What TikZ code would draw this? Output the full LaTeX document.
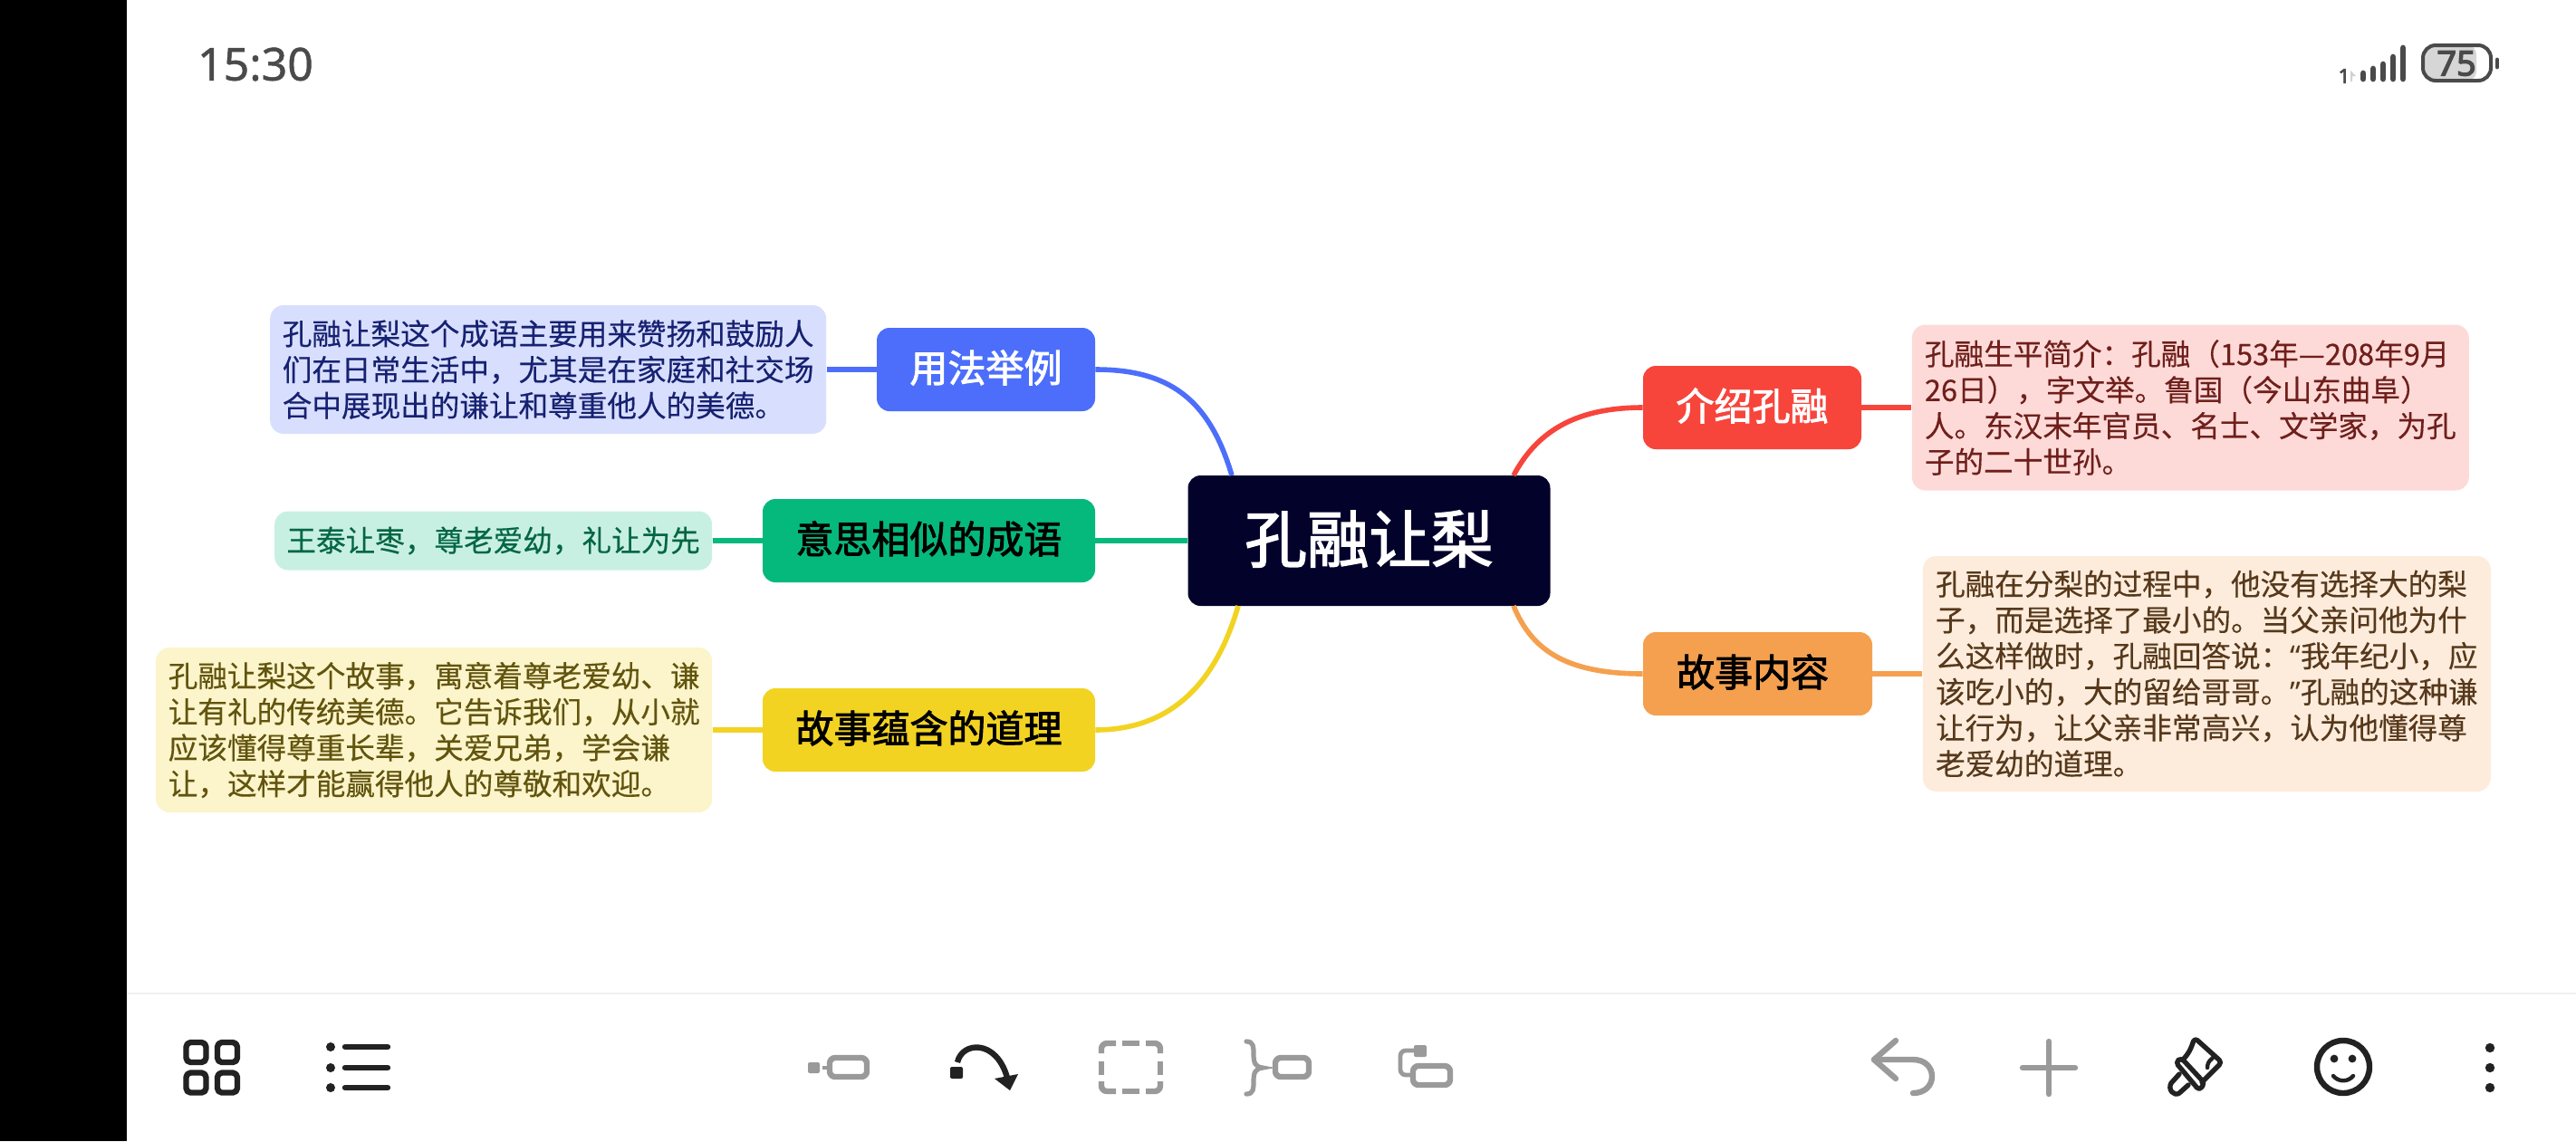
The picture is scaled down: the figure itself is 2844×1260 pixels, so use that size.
\documentclass[tikz,border=0pt]{standalone}
\usepackage{fontspec}
\setmainfont{Noto Sans}
\newfontfamily\cjk[FakeBold=0.3]{Noto Sans CJK SC}
\newfontfamily\cjkmid[FakeBold=2.2]{Noto Sans CJK SC}
\newfontfamily\clockfont[FakeBold=1]{Noto Sans}
\newfontfamily\batteryfont[FakeBold=3.5]{Noto Sans}
\usetikzlibrary{arrows.meta, positioning}
\definecolor{rootblack}{HTML}{02022B}
\definecolor{usageblue}{HTML}{4C6EFB}
\definecolor{similargreen}{HTML}{05B97C}
\definecolor{moralyellow}{HTML}{F2D322}
\definecolor{introred}{HTML}{F7453C}
\definecolor{storyorange}{HTML}{F5A04E}
\definecolor{iconblack}{HTML}{222222}
\definecolor{icongray}{HTML}{9A9A9A}
\definecolor{statusgray}{HTML}{4A4A4A}
\tikzset{
  root/.style={rectangle, rounded corners=7pt, fill=rootblack, text=white, minimum width=200pt, minimum height=72pt, text height=28pt, text depth=4pt, font=\cjkmid\fontsize{34.3}{40}\selectfont},
  branch/.style={rectangle, rounded corners=7pt, minimum height=46pt, inner sep=0pt, text height=18pt, text depth=4pt, font=\cjkmid\fontsize{21}{25}\selectfont},
  leaf/.style={rectangle, rounded corners=7.5pt, align=left, inner sep=0pt, font=\cjk\fontsize{16.3}{19.85}\selectfont},
  wire/.style={line width=2.8pt},
  darkicon/.style={draw=iconblack, line width=3.2pt, line cap=round, line join=round},
  grayicon/.style={draw=icongray, line width=3.2pt, line cap=round, line join=round}
}
\begin{document}
\begin{tikzpicture}[x=0.5pt, y=-0.5pt, node distance=27.5pt]
    \useasboundingbox (0,0) rectangle (2844,1260);
    \fill[white] (0,0) rectangle (2844,1260);
    \fill[black] (0,0) rectangle (140,1260);
    \draw[black!6, line width=1pt] (140,1097) -- (2844,1097);

    \node[root] (rong) at (1511.5,597) {孔融让梨};
    \node[branch, fill=usageblue, text=white, minimum width=120.5pt] (usage) at (1088.5,408) {用法举例};
    \node[branch, fill=similargreen, text=black, minimum width=183.5pt] (similar) at (1025.5,597) {意思相似的成语};
    \node[branch, fill=moralyellow, text=black, minimum width=183.5pt] (moral) at (1025.5,806) {故事蕴含的道理};
    \node[branch, fill=introred, text=white, minimum width=120.5pt] (intro) at (1934.5,450) {介绍孔融};
    \node[branch, fill=storyorange, text=black, minimum width=126.5pt] (story) at (1940.5,744) {故事内容\kern5.4pt};

    \node[leaf, left=of usage, fill=usageblue!22, text=usageblue!35!black!85!blue, minimum width=307pt, minimum height=71pt] (usagenote) {孔融让梨这个成语主要用来赞扬和鼓励人\\们在日常生活中，尤其是在家庭和社交场\\合中展现出的谦让和尊重他人的美德。};
    \node[leaf, left=of similar, fill=similargreen!22, text=similargreen!55!black, minimum width=241.5pt, minimum height=32.5pt] (similarnote) {王泰让枣，尊老爱幼，礼让为先};
    \node[leaf, left=of moral, fill=moralyellow!24, text=moralyellow!40!black, minimum width=307pt, minimum height=91pt] (moralnote) {孔融让梨这个故事，寓意着尊老爱幼、谦\\让有礼的传统美德。它告诉我们，从小就\\应该懂得尊重长辈，关爱兄弟，学会谦\\让，这样才能赢得他人的尊敬和欢迎。};
    \node[leaf, right=of intro, fill=introred!20, text=introred!45!black, minimum width=307.5pt, minimum height=91.5pt] (intronote) {孔融生平简介：孔融（153年—208年9月\\26日），字文举。鲁国（今山东曲阜）\\人。东汉末年官员、名士、文学家，为孔\\子的二十世孙。};
    \node[leaf, right=of story, fill=storyorange!20, text=storyorange!35!black, minimum width=313.5pt, minimum height=130pt] (storynote) {孔融在分梨的过程中，他没有选择大的梨\\子，而是选择了最小的。当父亲问他为什\\么这样做时，孔融回答说：{\normalfont “}我年纪小，应\\该吃小的，大的留给哥哥。{\normalfont ”}孔融的这种谦\\让行为，让父亲非常高兴，认为他懂得尊\\老爱幼的道理。};

    \coordinate (rootblue) at (1360,525);
    \coordinate (rootyellow) at (1367,669);
    \coordinate (rootred) at (1671,525);
    \coordinate (rootorange) at (1671,669);

    \draw[wire, usageblue] (usage.east) .. controls (1290,408) and (1335,440) .. (rootblue);
    \draw[wire, similargreen] (similar) -- (rong);
    \draw[wire, moralyellow] (moral.east) .. controls (1300,806) and (1345,745) .. (rootyellow);
    \draw[wire, introred] (intro.west) .. controls (1735,450) and (1695,480) .. (rootred);
    \draw[wire, storyorange] (story.west) .. controls (1725,744) and (1690,715) .. (rootorange);
    \draw[wire, usageblue] (usagenote) -- (usage);
    \draw[wire, similargreen] (similarnote) -- (similar);
    \draw[wire, moralyellow] (moralnote) -- (moral);
    \draw[wire, introred] (intronote) -- (intro);
    \draw[wire, storyorange] (storynote) -- (story);

    % status bar
    \node[text=statusgray, font=\clockfont\fontsize{25}{28}\selectfont, inner sep=0pt] (clock) at (282,71) {15:30};
    \node[text=statusgray, font=\batteryfont\fontsize{11}{12}\selectfont, inner sep=0pt] (simone) at (2588,84) {1};
    \fill[black!18] (2595,78) -- (2601,84) -- (2597,84) -- (2597,90) -- (2595,90) -- cycle;
    \foreach \bx/\bt in {2609/78, 2620/73, 2631/68, 2642/60, 2653/50} {
      \draw[statusgray, line width=3.4pt, line cap=round] (\bx,\bt+3) -- (\bx,87);
    }
    \fill[black!16, rounded corners=5pt] (2675,50) rectangle (2734,89);
    \draw[statusgray, line width=2pt, rounded corners=7pt] (2675,50) rectangle (2750,89);
    \draw[statusgray, line width=2.4pt, line cap=round] (2757,66) -- (2757,74);
    \node[text=statusgray, font=\batteryfont\fontsize{19}{22}\selectfont, inner sep=0pt] (battery) at (2712,70) {75};

    % toolbar, left
    \foreach \gx in {216.5,251} \foreach \gy in {1162,1195.5} {
      \draw[darkicon, rounded corners=2.5pt] (\gx-11,\gy-11) rectangle (\gx+11,\gy+11);
    }
    \foreach \ly in {1156,1179,1201} {
      \fill[iconblack] (365,\ly) circle (2.5pt);
      \draw[darkicon] (381,\ly) -- (428,\ly);
    }

    % toolbar, centre
    \fill[icongray, rounded corners=1pt] (892,1173) rectangle (905,1185);
    \draw[icongray, line width=2.4pt] (908,1179) -- (913,1179);
    \draw[grayicon, rounded corners=3pt] (916,1168) rectangle (957,1189);
    \fill[iconblack, rounded corners=1pt] (1049,1178) rectangle (1063,1191);
    \draw[darkicon, line cap=butt] (1057,1173) .. controls (1062,1150) and (1100,1147) .. (1112,1190);
    \fill[iconblack] (1115,1204) -- (1098,1191) -- (1124,1186) -- cycle;
    \foreach \ax/\ay/\bx/\by/\cx/\cy in {1232/1152/1216/1152/1216/1163, 1265/1152/1281/1152/1281/1163, 1232/1205/1216/1205/1216/1194, 1265/1205/1281/1205/1281/1194} {
      \draw[grayicon, line cap=butt, rounded corners=3pt] (\ax,\ay) -- (\bx,\by) -- (\cx,\cy);
    }
    \draw[grayicon, line cap=butt] (1239,1152) -- (1258,1152);
    \draw[grayicon, line cap=butt] (1239,1205) -- (1258,1205);
    \draw[grayicon, line cap=butt] (1216,1172) -- (1216,1187);
    \draw[grayicon, line cap=butt] (1281,1172) -- (1281,1187);
    \draw[icongray, line width=2.6pt, line cap=round] (1376,1150) .. controls (1384,1150) and (1384,1156) .. (1384,1164) .. controls (1384,1174) and (1386,1178) .. (1394,1179) .. controls (1386,1180) and (1384,1184) .. (1384,1194) .. controls (1384,1202) and (1384,1208) .. (1376,1208);
    \draw[grayicon, rounded corners=3pt] (1408,1168) rectangle (1445,1189);
    \fill[icongray, rounded corners=1pt] (1561,1154) rectangle (1575,1167);
    \draw[icongray, line width=2.4pt, rounded corners=3pt] (1561,1160) -- (1546,1160) -- (1546,1187) -- (1557,1187);
    \draw[grayicon, rounded corners=3pt] (1560,1177) rectangle (1601,1198);

    % toolbar, right
    \draw[grayicon] (2093,1149) -- (2069,1170) -- (2093,1191);
    \draw[grayicon] (2069,1170) -- (2112,1170) .. controls (2140,1170) and (2140,1207) .. (2112,1207);
    \draw[grayicon] (2262,1150) -- (2262,1208);
    \draw[grayicon] (2233,1179) -- (2291,1179);
    \draw[darkicon, line width=2.7pt, rounded corners=2pt] (2410,1170) .. controls (2418,1162) and (2420,1154) .. (2423,1146) -- (2453,1173) -- (2431,1195);
    \draw[darkicon, line width=2.7pt, rounded corners=2pt] (2402,1173) -- (2408,1168) -- (2434,1196) -- (2428,1204) -- cycle;
    \draw[darkicon, line width=2.2pt] (2443,1168) .. controls (2438,1172) and (2437,1175) .. (2437,1179);
    \draw[darkicon, line width=2.7pt] (2406,1186) -- (2397,1196) .. controls (2393,1203) and (2400,1211) .. (2406,1207) -- (2416,1198);
    \draw[darkicon] (2587,1178) circle (14.5pt);
    \fill[iconblack] (2577,1169) circle (2.2pt);
    \fill[iconblack] (2597,1169) circle (2.2pt);
    \draw[darkicon, line width=2.2pt] (2576,1188) .. controls (2582,1195) and (2592,1195) .. (2598,1188);
    \foreach \my in {1157,1179,1201} {
      \fill[iconblack] (2749,\my) circle (2.6pt);
    }
\end{tikzpicture}
\end{document}
